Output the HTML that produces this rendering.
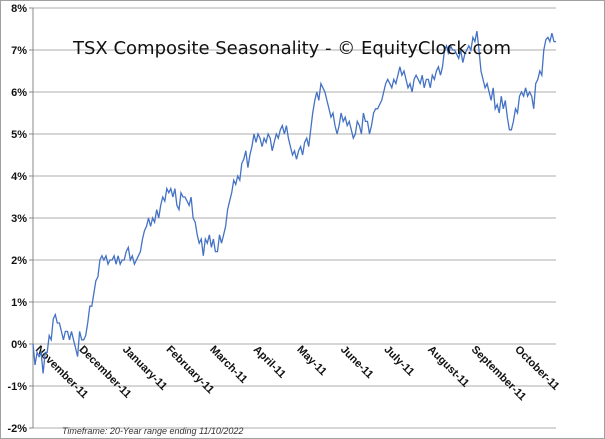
<!DOCTYPE html>
<html><head><meta charset="utf-8"><style>
body{margin:0;background:#fff}
svg{display:block;font-family:"DejaVu Sans","Liberation Sans",sans-serif}
</style></head><body>
<svg width="605" height="439" xmlns="http://www.w3.org/2000/svg">
<rect x="0.5" y="0.5" width="604" height="438" fill="#fff" stroke="#a0a0a0"/>
<g id="grid"></g><g id="yt"></g><g id="xt"></g>
<line x1="33" y1="8" x2="33" y2="428" stroke="#888"/>
<path id="ln" fill="none" stroke="#4472c4" stroke-width="1.3"/>
<text x="292" y="54" text-anchor="middle" font-size="18" fill="#111">TSX Composite Seasonality - © EquityClock.com</text>
<text x="62" y="434" font-size="9" font-style="italic" fill="#333" font-family="Liberation Sans,sans-serif">Timeframe: 20-Year range ending 11/10/2022</text>
</svg>
<script>
const yTicks=[-2,-1,0,1,2,3,4,5,6,7,8];
const months=["November-11","December-11","January-11","February-11","March-11","April-11","May-11","June-11","July-11","August-11","September-11","October-11"];
const values=[0,-0.5,-0.2,-0.3,-0.2,-0.7,-0.2,-0.2,0.2,0.1,0.6,0.7,0.5,0.5,0.3,0.1,0.3,0.3,0.1,0.3,0.1,-0.1,-0.3,0.3,0.1,0.1,0.2,0.5,0.9,0.9,1.2,1.5,1.6,2.0,2.1,2.0,2.1,1.9,2.0,2.0,2.1,1.9,2.1,1.9,2.0,2.0,2.2,2.3,2.0,2.1,1.9,2.0,2.1,2.2,2.5,2.7,2.8,3.0,2.8,3.0,2.9,3.2,3.0,3.3,3.5,3.4,3.7,3.6,3.7,3.5,3.7,3.3,3.2,3.6,3.5,3.5,3.4,3.3,3.5,3.0,2.9,2.6,2.4,2.5,2.1,2.5,2.4,2.6,2.3,2.5,2.2,2.2,2.6,2.4,2.6,2.8,3.2,3.4,3.6,3.9,3.8,4.0,3.9,4.3,4.4,4.6,4.2,4.5,4.7,5.0,4.8,5.0,4.9,4.7,4.9,4.8,5.0,4.9,4.6,4.8,5.0,4.9,5.1,5.2,5.0,5.2,4.9,4.7,4.5,4.6,4.4,4.6,4.7,4.5,4.8,4.9,4.7,5.1,5.5,5.8,6.0,5.8,6.2,6.1,6.0,5.8,5.6,5.4,5.5,5.2,5.0,5.2,5.5,5.3,5.4,5.2,5.3,5.1,4.9,5.0,5.3,5.2,5.0,5.5,5.3,5.3,5.0,5.2,5.5,5.6,5.6,5.7,5.8,6.0,6.2,6.3,6.2,6.1,6.3,6.2,6.4,6.6,6.4,6.5,6.3,6.1,6.2,6.0,6.3,6.4,6.3,6.2,6.4,6.1,6.3,6.3,6.1,6.4,6.3,6.5,6.6,6.4,6.6,7.0,7.1,6.9,7.1,7.0,7.0,6.9,6.8,7.0,6.7,6.9,7.0,7.1,7.0,7.3,7.2,7.45,7.0,6.5,6.3,6.1,6.2,6.0,5.8,6.1,5.6,5.7,5.5,5.9,5.6,5.8,5.4,5.1,5.1,5.3,5.6,5.5,5.9,6.0,5.9,6.1,5.9,6.0,5.9,5.6,6.2,6.3,6.5,6.4,7.0,7.25,7.3,7.2,7.4,7.2,7.2];
const NS="http://www.w3.org/2000/svg";
const X0=33,X1=556,Y0=428,Y1=8;
const y=v=>Y0-(v+2)/10*(Y0-Y1);
const x=i=>X0+i/(values.length-1)*(X1-X0);
const g=document.getElementById('grid'),yt=document.getElementById('yt'),xt=document.getElementById('xt');
yTicks.forEach(t=>{
 const l=document.createElementNS(NS,'line');
 l.setAttribute('x1',X0);l.setAttribute('x2',X1);l.setAttribute('y1',y(t));l.setAttribute('y2',y(t));
 l.setAttribute('stroke','#c8c8c8');l.setAttribute('stroke-width','1.5');
 
 
 g.appendChild(l);
 const k=document.createElementNS(NS,'line');
 k.setAttribute('x1',29);k.setAttribute('x2',X0);k.setAttribute('y1',y(t));k.setAttribute('y2',y(t));k.setAttribute('stroke','#888');
 
 
 g.appendChild(k);
 const s=document.createElementNS(NS,'text');
 s.setAttribute('x',27);s.setAttribute('y',y(t)+4);s.setAttribute('text-anchor','end');
 s.setAttribute('font-size','11');s.setAttribute('font-weight','bold');s.setAttribute('fill','#111');
 s.setAttribute('font-family','Liberation Sans,sans-serif');
 s.textContent=t+'%';
 
 
 yt.appendChild(s);
});
months.forEach((m,i)=>{
 const px=X0+2+i*(X1-X0)/12;
 const s=document.createElementNS(NS,'text');
 s.setAttribute('transform','translate('+px+','+(y(0)+6)+') rotate(45)');
 s.setAttribute('font-size','11');s.setAttribute('font-weight','bold');s.setAttribute('fill','#111');
 s.setAttribute('font-family','Liberation Sans,sans-serif');
 s.textContent=m;
 
 
 xt.appendChild(s);
});
document.getElementById('ln').setAttribute('d',values.map((v,i)=>(i?'L':'M')+x(i).toFixed(1)+','+y(v).toFixed(1)).join(''));
</script>
</body></html>
